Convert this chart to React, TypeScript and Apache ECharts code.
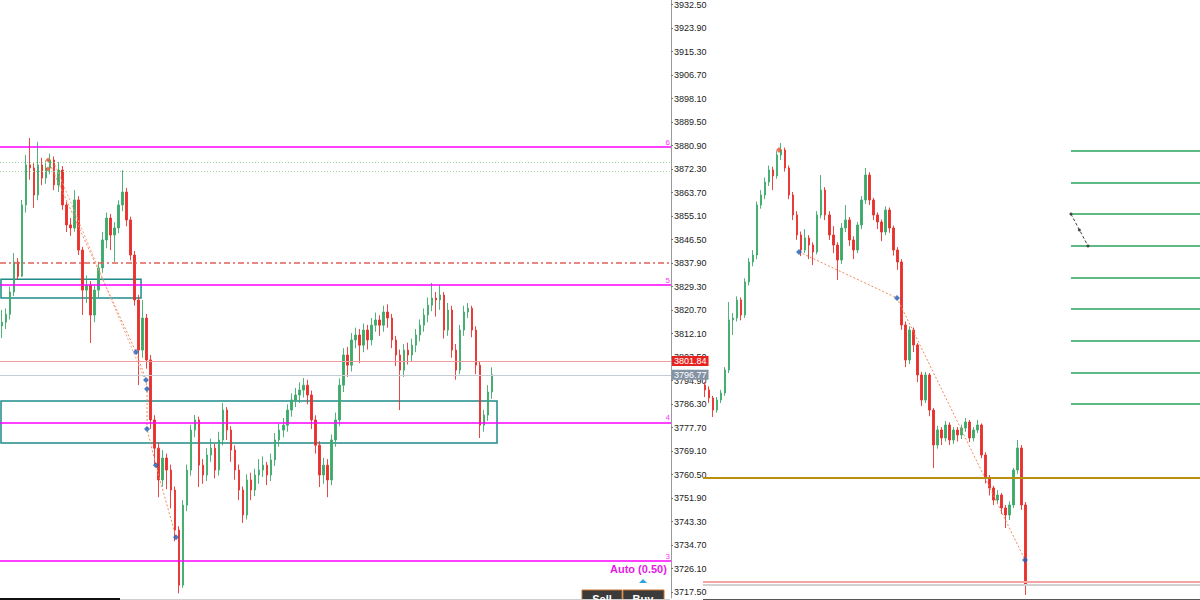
import React, { useEffect, useRef } from 'react';
import * as echarts from 'echarts';

// ---- Left panel (M-timeframe) ----
const leftTickLabels = [
  '3932.50','3923.90','3915.30','3906.70','3898.10','3889.50','3880.90','3872.30','3863.70',
  '3855.10','3846.50','3837.90','3829.30','3820.70','3812.10','3803.50','3794.90','3786.30',
  '3777.70','3769.10','3760.50','3751.90','3743.30','3734.70','3726.10','3717.50',
];
// [open, close, low, high]
const leftCandles = [
  [3814.6,3816.0,3810.2,3820.4],[3816.0,3818.9,3813.5,3821.0],[3818.9,3827.0,3817.0,3829.0],
  [3827.0,3838.0,3825.5,3841.2],[3838.0,3832.8,3831.4,3839.4],[3832.8,3858.8,3832.5,3860.6],
  [3858.8,3873.4,3856.0,3877.0],[3873.4,3872.3,3868.0,3883.2],[3872.3,3862.4,3857.7,3874.0],
  [3862.4,3873.4,3860.5,3881.8],[3873.4,3868.6,3866.0,3876.0],[3868.6,3872.3,3866.5,3875.0],
  [3872.3,3875.2,3870.0,3877.5],[3875.2,3866.1,3864.2,3876.5],[3866.1,3871.5,3863.5,3874.5],
  [3871.5,3858.8,3857.0,3873.0],[3858.8,3851.5,3848.9,3860.0],[3851.5,3850.4,3847.5,3854.0],
  [3850.4,3860.6,3849.0,3864.2],[3860.6,3842.3,3840.5,3862.0],[3842.3,3827.7,3818.6,3843.5],
  [3827.7,3829.5,3823.0,3833.0],[3829.5,3818.6,3808.4,3831.0],[3818.6,3827.7,3816.0,3829.5],
  [3827.7,3835.8,3825.0,3838.0],[3835.8,3846.0,3834.0,3848.9],[3846.0,3854.0,3843.0,3856.0],
  [3854.0,3847.8,3842.3,3855.5],[3847.8,3850.4,3838.0,3852.5],[3850.4,3858.8,3848.5,3860.5],
  [3858.8,3863.5,3856.5,3871.5],[3863.5,3853.3,3851.0,3865.0],[3853.3,3840.5,3838.5,3854.5],
  [3840.5,3824.1,3822.0,3842.0],[3824.1,3805.8,3793.0,3826.0],[3805.8,3817.5,3803.0,3824.1],
  [3817.5,3802.2,3799.0,3819.0],[3802.2,3780.3,3777.0,3804.0],[3780.3,3770.0,3764.0,3782.0],
  [3770.0,3758.4,3752.1,3772.0],[3758.4,3766.4,3756.0,3769.3],[3766.4,3762.0,3755.0,3768.0],
  [3762.0,3754.7,3748.0,3764.0],[3754.7,3740.1,3736.0,3756.0],[3740.1,3720.0,3717.0,3741.5],
  [3720.0,3749.2,3719.0,3751.0],[3749.2,3762.0,3747.0,3764.0],[3762.0,3776.6,3760.0,3778.5],
  [3776.6,3780.3,3774.0,3782.1],[3780.3,3763.8,3755.8,3781.5],[3763.8,3760.2,3757.0,3766.0],
  [3760.2,3767.5,3758.0,3770.0],[3767.5,3770.0,3765.0,3773.5],[3770.0,3762.0,3759.0,3771.5],
  [3762.0,3773.0,3760.0,3776.0],[3773.0,3783.9,3771.0,3786.5],[3783.9,3776.6,3773.0,3785.0],
  [3776.6,3769.3,3765.0,3778.0],[3769.3,3762.0,3758.5,3771.0],[3762.0,3754.7,3751.0,3764.0],
  [3754.7,3745.6,3742.7,3756.0],[3745.6,3758.4,3744.0,3760.5],[3758.4,3754.7,3751.0,3761.0],
  [3754.7,3760.2,3752.5,3762.5],[3760.2,3762.0,3757.0,3766.0],[3762.0,3763.8,3759.5,3767.0],
  [3763.8,3760.2,3756.5,3765.0],[3760.2,3765.7,3758.0,3768.0],[3765.7,3773.0,3763.5,3775.5],
  [3773.0,3776.6,3770.5,3779.0],[3776.6,3778.4,3774.0,3781.0],[3778.4,3783.9,3776.0,3786.0],
  [3783.9,3787.6,3781.5,3790.0],[3787.6,3789.4,3785.0,3792.0],[3789.4,3791.2,3786.5,3794.0],
  [3791.2,3793.0,3788.5,3795.6],[3793.0,3789.4,3786.0,3795.0],[3789.4,3780.3,3777.0,3791.0],
  [3780.3,3771.1,3768.0,3782.0],[3771.1,3760.2,3755.8,3772.5],[3760.2,3763.8,3757.0,3766.5],
  [3763.8,3758.4,3752.1,3766.0],[3758.4,3773.0,3756.5,3775.0],[3773.0,3780.3,3770.5,3783.0],
  [3780.3,3793.0,3778.0,3795.5],[3793.0,3804.0,3790.5,3806.5],[3804.0,3800.3,3796.0,3807.0],
  [3800.3,3809.5,3798.0,3812.0],[3809.5,3811.3,3806.5,3814.0],[3811.3,3807.6,3801.0,3813.5],
  [3807.6,3813.1,3805.0,3815.5],[3813.1,3809.5,3806.0,3815.0],[3809.5,3814.9,3807.5,3817.5],
  [3814.9,3816.8,3812.5,3819.5],[3816.8,3814.9,3811.0,3818.5],[3814.9,3819.7,3812.5,3822.0],
  [3819.7,3817.5,3814.0,3822.5],[3817.5,3809.5,3806.5,3819.0],[3809.5,3804.0,3800.0,3811.0],
  [3804.0,3798.5,3783.9,3806.0],[3798.5,3805.8,3796.0,3808.0],[3805.8,3804.0,3800.5,3808.5],
  [3804.0,3807.6,3801.5,3810.0],[3807.6,3811.3,3805.0,3813.5],[3811.3,3814.9,3809.0,3817.0],
  [3814.9,3818.6,3812.5,3821.0],[3818.6,3822.2,3816.0,3825.0],[3822.2,3824.8,3820.0,3830.3],
  [3824.8,3824.1,3818.0,3827.0],[3824.1,3825.9,3820.5,3829.5],[3825.9,3813.1,3810.0,3827.0],
  [3813.1,3820.4,3811.0,3823.0],[3820.4,3805.8,3803.0,3822.0],[3805.8,3798.5,3795.0,3808.0],
  [3798.5,3813.1,3797.0,3815.0],[3813.1,3819.7,3811.0,3822.0],[3819.7,3821.1,3817.5,3823.0],
  [3821.1,3813.1,3810.5,3822.0],[3813.1,3800.3,3797.0,3814.5],[3800.3,3778.4,3773.7,3801.5],
  [3778.4,3782.1,3776.0,3784.0],[3782.1,3790.5,3780.0,3793.0],[3790.5,3796.8,3788.0,3799.5],
];
const leftSlots = 167;
const magentaLevels = [3879.9, 3829.5, 3779.2, 3728.8];
const magentaLabels = ['6', '5', '4', '3'];
const dashDotLevel = 3837.6;
const greenDottedLevels = [3874.5, 3871.2];
const priceRed = 3801.84;
const priceGrey = 3796.77;
// [x1, y1, x2, y2] in slot index / price
const leftBoxes = [
  [-0.25, 3831.7, 34.6, 3824.8],
  [-0.25, 3787.2, 123.2, 3771.9],
];
const leftTrend = [[11.45,3875.2],[33.35,3805.1],[35.84,3794.9],[36.09,3791.6],[36.09,3777.0],[38.3,3763.8],[43.3,3737.5]];
const leftTrend2 = [[13.2,3873.4],[35.6,3794.9]];
const leftBlueMarks = [[33.35,3805.1],[35.84,3794.9],[36.09,3791.6],[36.09,3777.0],[38.3,3763.8],[43.3,3737.5]];
const leftRedMarks = [[11.45,3875.2],[11.45,3871.9]];

// ---- Right panel (higher timeframe) ----
const rightCandles = [
  [4130.1,4121.8,4110,4135],[4121.8,4108.5,4100,4128],[4108.5,4088.4,4076.8,4112],
  [4088.4,4105.1,4084,4110],[4105.1,4116.8,4100,4122],[4116.8,4155.1,4112,4160],
  [4155.1,4238.5,4150,4268.5],[4238.5,4241.8,4213.5,4250],[4241.8,4271.8,4236,4278],
  [4271.8,4246.8,4238,4276],[4246.8,4301.9,4242,4308],[4301.9,4335.2,4296,4342],
  [4335.2,4346.9,4328,4355],[4346.9,4430.2,4340,4436],[4430.2,4446.9,4424,4455],
  [4446.9,4468.6,4440,4476],[4468.6,4488.6,4462,4496],[4488.6,4478.6,4455,4494],
  [4478.6,4513.6,4474,4520],[4513.6,4521.9,4505,4533.6],[4521.9,4491.9,4486,4526],
  [4491.9,4446.9,4440,4496],[4446.9,4413.6,4405,4452],[4413.6,4380.2,4372,4420],
  [4380.2,4355.2,4345,4386],[4355.2,4375.2,4350,4390],[4375.2,4363.5,4340,4380],
  [4363.5,4351.9,4330,4368],[4351.9,4413.6,4348,4420],[4413.6,4455.2,4408,4480.2],
  [4455.2,4413.6,4405,4460],[4413.6,4380.2,4372,4420],[4380.2,4363.5,4350,4395],
  [4363.5,4338.5,4305.2,4368],[4338.5,4391.9,4332,4400],[4391.9,4405.2,4385,4430],
  [4405.2,4371.9,4362,4410],[4371.9,4355.2,4340,4378],[4355.2,4396.9,4350,4402],
  [4396.9,4438.6,4390,4445],[4438.6,4480.2,4432,4491.9],[4480.2,4438.6,4430,4485],
  [4438.6,4413.6,4405,4442],[4413.6,4401.9,4390,4418],[4401.9,4385.2,4370,4406],
  [4385.2,4421.9,4380,4428],[4421.9,4391.9,4384,4426],[4391.9,4355.2,4346,4396],
  [4355.2,4335.2,4322,4360],[4335.2,4230.2,4222,4340],[4230.2,4171.8,4160,4236],
  [4171.8,4221.8,4165,4228],[4221.8,4196.8,4185,4226],[4196.8,4146.8,4135,4200],
  [4146.8,4105.1,4095,4152],[4105.1,4146.8,4100,4152],[4146.8,4088.4,4078,4150],
  [4088.4,4030.1,3991.7,4092],[4030.1,4055.1,4024,4062],[4055.1,4041.8,4030,4060],
  [4041.8,4063.4,4036,4070],[4063.4,4038.4,4030,4068],[4038.4,4055.1,4032,4060],
  [4055.1,4046.8,4036,4060],[4046.8,4058.4,4040,4064],[4058.4,4068.4,4052,4075],
  [4068.4,4041.8,4035,4072],[4041.8,4055.1,4036,4060],[4055.1,4063.4,4050,4072],
  [4063.4,4013.4,4008,4066],[4013.4,3975.1,3966,4018],[3975.1,3958.4,3946,3980],
  [3958.4,3938.4,3930,3962],[3938.4,3946.7,3932,3955],[3946.7,3925.1,3915,3950],
  [3925.1,3913.4,3891.7,3930],[3913.4,3930.1,3905,3936],[3930.1,3988.4,3925,3992],
  [3988.4,4025.1,3982,4038.4],[4025.1,3930.1,3922,4030],[3930.1,3796.7,3780.0,3935],
];
const rightSlots = 124;
const goldLevel = 3975.1;
const greenLevels = [4520.3, 4466.9, 4415.2, 4361.9, 4308.5, 4256.8, 4203.5, 4150.1, 4098.4];
const greenStart = 91.3;
const fibSeg = [[91.3, 4415.2], [95.56, 4361.9]];
const fibMid = [[93.4, 4388.5]];
const rightTrend = [[23.45, 4351.9], [47.9, 4275.2], [79.84, 3838.4]];
const rightBlueMarks = [[23.45, 4351.9], [47.9, 4275.2], [79.84, 3838.4]];
const rightRedMarks = [[18.46, 4521.9]];

const UP = '#3daa6b';
const DOWN = '#e8312e';
const AXIS_FONT = "'Liberation Sans Narrow', 'Liberation Sans', Arial, sans-serif";

export default function App() {
  const ref = useRef<HTMLDivElement>(null);
  useEffect(() => {
    if (!ref.current) return;
    const chart = echarts.init(ref.current, undefined, { renderer: 'svg' });
    const hLine = (v: number, color: string, width: number, type: any, label?: any) => ({
      yAxis: v,
      lineStyle: { color, width, type },
      label: label || { show: false },
    });
    const tag = (text: string, bg: string) => ({
      show: true, position: 'end', formatter: text, distance: 1,
      backgroundColor: bg, color: '#fff', fontSize: 9, fontFamily: AXIS_FONT,
      padding: [1, 2, 0, 2], lineHeight: 9,
    });
    const option: any = {
      animation: false,
      backgroundColor: '#ffffff',
      grid: [
        { left: 0, top: 0, width: 671, height: 598 },
        { left: 0, top: 3, width: 671, height: 589 },
        { left: 703, top: 0, width: 497, height: 598 },
      ],
      xAxis: [
        { type: 'category', gridIndex: 0, data: Array.from({ length: leftSlots }, (_, i) => String(i)), show: false, boundaryGap: true },
        { type: 'value', gridIndex: 0, min: -0.5, max: leftSlots - 0.5, show: false },
        { type: 'value', gridIndex: 1, show: false },
        { type: 'category', gridIndex: 2, data: Array.from({ length: rightSlots }, (_, i) => String(i)), show: false, boundaryGap: true },
        { type: 'value', gridIndex: 2, min: -0.5, max: rightSlots - 0.5, show: false },
      ],
      yAxis: [
        {
          type: 'value', gridIndex: 0, min: 3715.3, max: 3933.6, position: 'right',
          axisLine: { show: true, onZero: false, lineStyle: { color: '#9a9a9a', width: 1 } },
          axisLabel: { show: false }, axisTick: { show: false }, splitLine: { show: false },
        },
        {
          type: 'category', gridIndex: 1, position: 'right', boundaryGap: false,
          data: [...leftTickLabels].reverse(),
          axisLine: { show: false, onZero: false },
          axisTick: { show: true, length: 2, interval: 0, lineStyle: { color: '#777' } },
          axisLabel: { interval: 0, margin: 3, fontSize: 9, color: '#222', fontFamily: AXIS_FONT },
          splitLine: { show: false },
        },
        { type: 'value', gridIndex: 2, min: 3775, max: 4772, show: false },
      ],
      series: [
        {
          type: 'candlestick', xAxisIndex: 0, yAxisIndex: 0, data: leftCandles, barWidth: 2,
          itemStyle: { color: UP, color0: DOWN, borderColor: UP, borderColor0: DOWN, borderWidth: 0.9 },
        },
        {
          type: 'line', xAxisIndex: 1, yAxisIndex: 0, data: leftTrend, symbol: 'none', z: 3,
          lineStyle: { color: '#f08a5a', width: 1, type: [2, 2] },
          markLine: {
            silent: true, symbol: ['none', 'none'],
            data: [
              ...greenDottedLevels.map((v) => hLine(v, '#9fd89f', 1, [1, 2])),
              hLine(dashDotLevel, '#e0605a', 1.5, [6, 3, 2, 3]),
              ...magentaLevels.map((v, i) => hLine(v, '#ff00ff', 1.5, 'solid', {
                show: true, position: 'insideEndTop', formatter: magentaLabels[i], distance: 1,
                color: '#ff33ff', fontSize: 8, fontFamily: AXIS_FONT,
              })),
              hLine(priceRed, '#f39a9a', 1, 'solid', tag(String(priceRed), '#e52320')),
              hLine(priceGrey, '#c5ccd4', 1, 'solid', tag(String(priceGrey), '#8393a3')),
            ],
          },
          markArea: {
            silent: true,
            itemStyle: { color: 'rgba(0,0,0,0)', borderColor: '#1f8a8a', borderWidth: 1.5 },
            data: leftBoxes.map((b) => [{ coord: [b[0], b[1]] }, { coord: [b[2], b[3]] }]),
          },
        },
        {
          type: 'line', xAxisIndex: 1, yAxisIndex: 0, data: leftTrend2, symbol: 'none', z: 3,
          lineStyle: { color: '#f3a585', width: 1, type: [2, 2] },
        },
        {
          type: 'scatter', xAxisIndex: 1, yAxisIndex: 0, data: leftBlueMarks, symbol: 'diamond', symbolSize: 6, z: 5,
          itemStyle: { color: '#1d5fb8' },
        },
        {
          type: 'scatter', xAxisIndex: 1, yAxisIndex: 0, data: leftRedMarks, symbol: 'diamond', symbolSize: 5, z: 5,
          itemStyle: { color: '#e8502e' },
        },
        {
          type: 'candlestick', xAxisIndex: 3, yAxisIndex: 2, data: rightCandles, barWidth: 2,
          itemStyle: { color: UP, color0: DOWN, borderColor: UP, borderColor0: DOWN, borderWidth: 0.9 },
        },
        {
          type: 'line', xAxisIndex: 4, yAxisIndex: 2, data: rightTrend, symbol: 'none', z: 3,
          lineStyle: { color: '#f08a5a', width: 1, type: [2, 2] },
          markLine: {
            silent: true, symbol: ['none', 'none'],
            data: [
              hLine(goldLevel, '#b8900c', 2, 'solid'),
              hLine(priceRed, '#f5a5a5', 2, 'solid'),
              hLine(priceGrey, '#d2d2d2', 2, 'solid'),
              ...greenLevels.map((v) => [
                { coord: [greenStart, v], lineStyle: { color: '#5dba84', width: 2, type: 'solid' }, label: { show: false } },
                { coord: [rightSlots - 0.5, v] },
              ]),
              [
                { coord: fibSeg[0], lineStyle: { color: '#444', width: 1, type: [3, 2] }, label: { show: false }, symbol: 'circle', symbolSize: 3 },
                { coord: fibSeg[1], symbol: 'circle', symbolSize: 3 },
              ],
            ],
          },
        },
        {
          type: 'scatter', xAxisIndex: 4, yAxisIndex: 2, data: rightBlueMarks, symbol: 'diamond', symbolSize: 6, z: 5,
          itemStyle: { color: '#1d5fb8' },
        },
        {
          type: 'scatter', xAxisIndex: 4, yAxisIndex: 2, data: rightRedMarks, symbol: 'diamond', symbolSize: 6, z: 5,
          itemStyle: { color: '#e8502e' },
        },
        {
          type: 'scatter', xAxisIndex: 4, yAxisIndex: 2, data: fibMid, symbol: 'circle', symbolSize: 3, z: 5,
          itemStyle: { color: '#222' },
        },
      ],
      graphic: [
        {
          type: 'text', left: 610, top: 563, z: 10,
          style: { text: 'Auto (0.50)', fill: '#e619e6', font: "bold 11px 'Liberation Sans', Arial, sans-serif" },
        },
        {
          type: 'polygon', z: 10,
          shape: { points: [[639, 583], [647, 583], [643, 579]] },
          style: { fill: '#27a4e3' },
        },
        { type: 'rect', z: 10, shape: { x: 582, y: 590, width: 40, height: 12 }, style: { fill: '#3b3b3b', stroke: '#c8702a', lineWidth: 1 } },
        { type: 'rect', z: 10, shape: { x: 623, y: 590, width: 41, height: 12 }, style: { fill: '#3b3b3b', stroke: '#c8702a', lineWidth: 1 } },
        {
          type: 'text', z: 11, x: 602, y: 593,
          style: { text: 'Sell', fill: '#fff', font: "bold 11px 'Liberation Sans', Arial, sans-serif", textAlign: 'center', textVerticalAlign: 'top' },
        },
        {
          type: 'text', z: 11, x: 643, y: 593,
          style: { text: 'Buy', fill: '#fff', font: "bold 11px 'Liberation Sans', Arial, sans-serif", textAlign: 'center', textVerticalAlign: 'top' },
        },
        { type: 'rect', z: 10, shape: { x: 0, y: 598, width: 120, height: 2 }, style: { fill: '#111' } },
        { type: 'line', z: 10, shape: { x1: 120, y1: 599.5, x2: 670, y2: 599.5 }, style: { stroke: '#cfcfcf', lineWidth: 1 } },
        { type: 'line', z: 10, shape: { x1: 703, y1: 599.5, x2: 1200, y2: 599.5 }, style: { stroke: '#555', lineWidth: 1 } },
      ],
    };
    chart.setOption(option);
    return () => chart.dispose();
  }, []);
  return (
    <div
      ref={ref}
      style={{ position: 'absolute', left: 0, top: 0, width: 1200, height: 600, background: '#fff' }}
    />
  );
}
